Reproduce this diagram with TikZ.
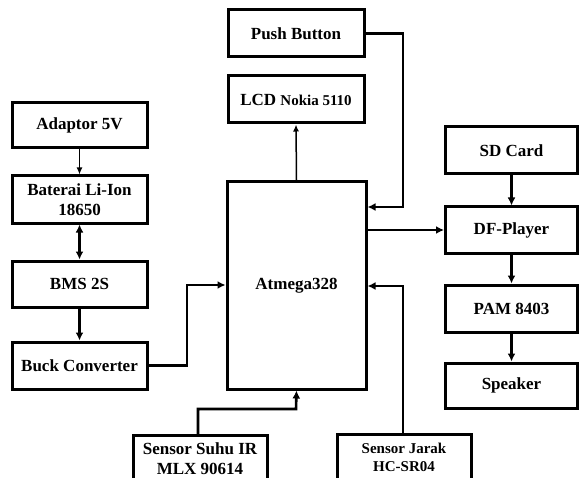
\documentclass[tikz,border=0pt]{standalone}
\usepackage{fontspec}
\setmainfont{Liberation Serif}
\usetikzlibrary{arrows.meta}
\tikzset{
  blk/.style={draw, line width=3pt, inner sep=0pt, align=center,
    font=\bfseries\fontsize{17}{20}\selectfont},
  conn/.style={line width=2.6pt, -{Latex[length=8pt,width=8pt]}},
  thinconn/.style={line width=1.5pt, -{Latex[length=7pt,width=6pt]}},
}
\begin{document}
\begin{tikzpicture}[x=1pt,y=-1pt]
\useasboundingbox (0,0) rectangle (580,478);
\clip (0,0) rectangle (580,478);
\fill[white] (0,0) rectangle (580,478);
% left column
\node[blk, minimum width=135pt, minimum height=45pt] (adaptor) at (79.5,125.5) {Adaptor 5V};
\node[blk, minimum width=135pt, minimum height=47pt] (baterai) at (79.5,199.5) {Baterai Li-Ion\\18650};
\node[blk, minimum width=135pt, minimum height=46pt] (bms) at (79.5,284) {BMS 2S};
\node[blk, minimum width=135pt, minimum height=47pt] (buck) at (79.5,365.5) {Buck Converter};
% centre column
\node[blk, minimum width=136pt, minimum height=47pt] (push) at (296,33.5) {Push Button};
\node[blk, minimum width=136pt, minimum height=47pt] (lcd) at (296,99.5) {LCD {\fontsize{15}{18}\selectfont Nokia 5110}};
\node[blk, minimum width=139pt, minimum height=207pt] (atmega) at (296.5,285.5) {Atmega328};
% right column
\node[blk, minimum width=132pt, minimum height=47pt] (sd) at (511.5,150.5) {SD Card};
\node[blk, minimum width=132pt, minimum height=46pt] (df) at (511.5,230) {DF-Player};
\node[blk, minimum width=132pt, minimum height=47pt] (pam) at (511.5,308.5) {PAM 8403};
\node[blk, minimum width=132pt, minimum height=45pt] (speaker) at (511.5,385.5) {Speaker};
% bottom sensors
\node[blk, minimum width=134pt, minimum height=46pt, anchor=north] (suhu) at (200,434) {Sensor Suhu IR\\MLX 90614};
\node[blk, minimum width=134pt, minimum height=46pt, anchor=north, font=\bfseries\fontsize{15}{18}\selectfont] (jarak) at (404,433) {Sensor Jarak\\HC-SR04};
% coordinates
\coordinate (buckA) at (187,365.5);
\coordinate (buckB) at (187,285);
\coordinate (atmL) at (atmega.west |- buckB);
\coordinate (suhuA) at (198,434);
\coordinate (suhuB) at (198,409);
\coordinate (suhuC) at (296,409);
\coordinate (pushA) at (403,33.5);
\coordinate (pushB) at (403,207);
\coordinate (atmP) at (atmega.east |- pushB);
\coordinate (jarA) at (403,433);
\coordinate (jarB) at (403,286);
\coordinate (atmJ) at (atmega.east |- jarB);
\coordinate (atmD) at (atmega.east |- df.west);
% connectors
\draw[thinconn] (adaptor) -- (baterai);
\draw[line width=2.6pt, {Latex[length=8pt,width=8pt]}-{Latex[length=8pt,width=8pt]}] (baterai) -- (bms);
\draw[conn] (bms) -- (buck);
\draw[conn] (buck.east) -- (buckA) -- (buckB) -- (atmL);
\draw[thinconn] (atmega.north) -- (lcd.south);
\draw[conn] (push.east) -- (pushA) -- (pushB) -- (atmP);
\draw[conn] (atmD) -- (df.west);
\draw[conn] (jarA) -- (jarB) -- (atmJ);
\draw[conn] (suhuA) -- (suhuB) -- (suhuC) -- (atmega.south);
\draw[conn] (sd) -- (df);
\draw[conn] (df) -- (pam);
\draw[conn] (pam) -- (speaker);
\end{tikzpicture}
\end{document}
